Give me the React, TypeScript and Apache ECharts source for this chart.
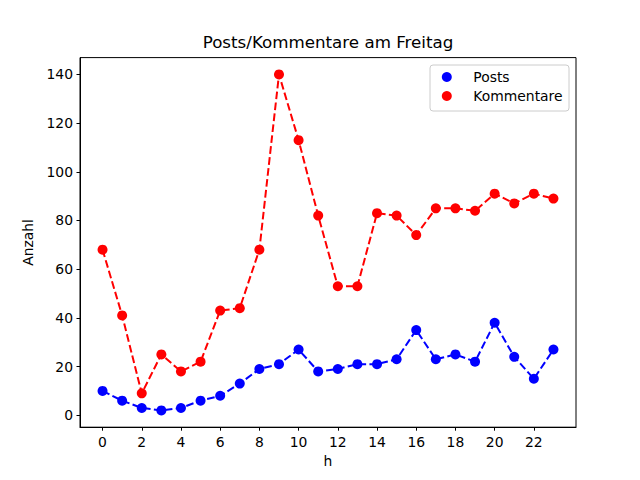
import React, { useEffect, useRef } from "react";
import * as echarts from "echarts";

const hours = [0, 1, 2, 3, 4, 5, 6, 7, 8, 9, 10, 11, 12, 13, 14, 15, 16, 17, 18, 19, 20, 21, 22, 23];
const posts = [10, 6, 3, 2, 3, 6, 8, 13, 19, 21, 27, 18, 19, 21, 21, 23, 35, 23, 25, 22, 38, 24, 15, 27];
const kommentare = [68, 41, 9, 25, 18, 22, 43, 44, 68, 140, 113, 82, 53, 53, 83, 82, 74, 85, 85, 84, 91, 87, 91, 89];
const xTicks = [0, 2, 4, 6, 8, 10, 12, 14, 16, 18, 20, 22];
const yTicks = [0, 20, 40, 60, 80, 100, 120, 140];
const titleText = "Posts/Kommentare am Freitag";
const xName = "h";
const yName = "Anzahl";
const seriesNames = ["Posts", "Kommentare"];

const FONT = "DejaVu Sans";

export default function App() {
  const ref = useRef<HTMLDivElement>(null);
  useEffect(() => {
    if (!ref.current) return;
    const chart = echarts.init(ref.current, null, { renderer: "svg" });
    const dash = [7.7, 3.3];
    const mk = (name: string, vals: number[], color: string) => ({
      name,
      type: "line",
      data: hours.map((h, i) => [h, vals[i]]),
      symbol: "circle",
      symbolSize: 10,
      showSymbol: true,
      itemStyle: { color, borderWidth: 0 },
      lineStyle: { color, width: 2, type: dash },
      emphasis: { disabled: true },
    });
    chart.setOption({
      animation: false,
      backgroundColor: "#ffffff",
      textStyle: { fontFamily: FONT },
      grid: {
        left: 80,
        right: 64,
        top: 57.6,
        bottom: 52.8,
        show: true,
        borderColor: "#000",
        borderWidth: 1,
        backgroundColor: "transparent",
      },
      xAxis: {
        type: "value",
        min: -1.15,
        max: 24.15,
        name: xName,
        nameLocation: "middle",
        nameGap: 27,
        nameTextStyle: { fontSize: 13.9, color: "#000", fontFamily: FONT },
        splitLine: { show: false },
        axisLine: { show: true, onZero: false, lineStyle: { color: "#000", width: 1 } },
        axisTick: { show: true, length: 3.5, inside: false, lineStyle: { color: "#000" }, customValues: xTicks },
        axisLabel: { color: "#000", fontSize: 13.9, margin: 8, fontFamily: FONT, customValues: xTicks },
      },
      yAxis: {
        type: "value",
        min: -4.9,
        max: 146.9,
        name: yName,
        nameLocation: "middle",
        nameGap: 45,
        nameRotate: 90,
        nameTextStyle: { fontSize: 13.9, color: "#000", fontFamily: FONT },
        splitLine: { show: false },
        axisLine: { show: true, onZero: false, lineStyle: { color: "#000", width: 1 } },
        axisTick: { show: true, length: 3.5, inside: false, lineStyle: { color: "#000" }, customValues: yTicks },
        axisLabel: { color: "#000", fontSize: 13.9, margin: 7, fontFamily: FONT, customValues: yTicks },
      },
      legend: {
        show: true,
        orient: "vertical",
        left: 441.8,
        top: 70,
        padding: 0,
        icon: "circle",
        itemWidth: 43,
        itemHeight: 10,
        itemGap: 5,
        selectedMode: false,
        textStyle: { fontSize: 13.9, color: "#000", fontFamily: FONT, lineHeight: 14 },
        data: seriesNames,
        z: 10,
      },
      graphic: [
        {
          type: "rect",
          shape: { x: 430, y: 65, width: 139, height: 46, r: 3 },
          style: { fill: "rgba(255,255,255,0.8)", stroke: "#cccccc", lineWidth: 1 },
          z: 5,
        },
        {
          type: "text",
          x: 328,
          y: 50,
          style: {
            text: titleText,
            fontSize: 16.7,
            fontFamily: FONT,
            fill: "#000",
            align: "center",
            verticalAlign: "bottom",
          },
        },
      ],
      series: [mk(seriesNames[0], posts, "#0000ff"), mk(seriesNames[1], kommentare, "#ff0000")],
    });
    return () => chart.dispose();
  }, []);
  return (
    <div
      ref={ref}
      style={{ position: "fixed", left: 0, top: 0, width: 640, height: 480 }}
    />
  );
}
